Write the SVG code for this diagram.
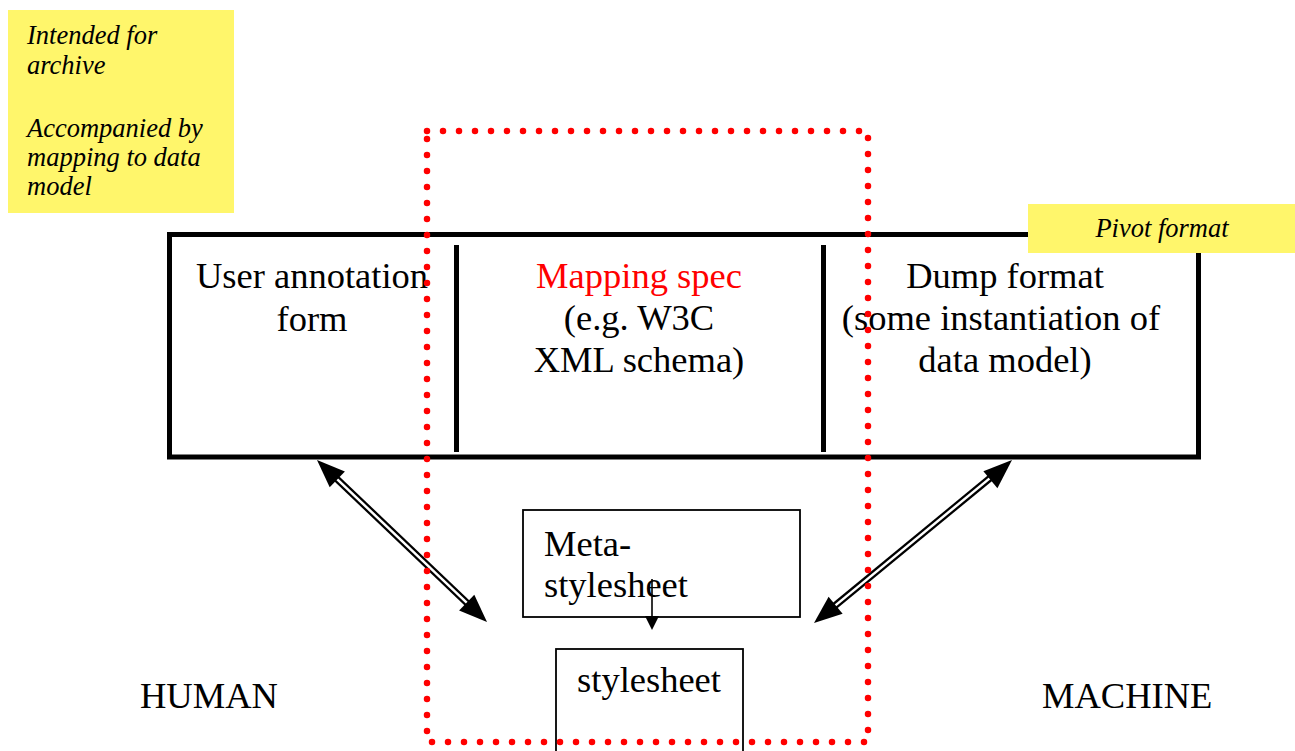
<svg xmlns="http://www.w3.org/2000/svg" width="1295" height="751" viewBox="0 0 1295 751">
<style>
.t{font-family:"Liberation Serif","Times New Roman",serif;font-size:36.5px;fill:#000}
.i{font-family:"Times New Roman","Liberation Serif",serif;font-size:26.5px;font-style:italic;fill:#000}
.note{fill:#FFF66B;stroke:none}
.box{fill:#fff;stroke:#000;stroke-width:1.8}
.dbl{stroke:#000;stroke-width:7;fill:none}
.gap{stroke:#fff;stroke-width:2.5;fill:none}
.head{fill:#000}
</style>
<rect width="1295" height="751" fill="#fff"/>
<g id="note-archive">
<rect class="note" x="8" y="10" width="226" height="203"/>
<text class="i" x="27" y="44">Intended for</text>
<text class="i" x="27" y="74">archive</text>
<text class="i" x="27" y="137">Accompanied by</text>
<text class="i" x="27" y="166">mapping to data</text>
<text class="i" x="27" y="195">model</text>
</g>
<g id="pivot">
<rect x="169.5" y="234.5" width="1029" height="222.5" fill="#fff" stroke="#000" stroke-width="5"/>
<line x1="456.5" y1="245" x2="456.5" y2="452" stroke="#000" stroke-width="5"/>
<line x1="823.5" y1="245" x2="823.5" y2="452" stroke="#000" stroke-width="5"/>
</g>
<g id="user-annotation">
<text class="t" x="312" y="288" text-anchor="middle">User annotation</text>
<text class="t" x="312" y="331" text-anchor="middle">form</text>
</g>
<g id="mapping-spec">
<text class="t" x="639" y="288" text-anchor="middle" style="fill:#FF0000">Mapping spec</text>
<text class="t" x="639" y="330" text-anchor="middle">(e.g. W3C</text>
<text class="t" x="639" y="372" text-anchor="middle">XML schema)</text>
</g>
<g id="dump-format">
<text class="t" x="1005" y="288" text-anchor="middle">Dump format</text>
<text class="t" x="1001" y="330" text-anchor="middle">(some instantiation of</text>
<text class="t" x="1005" y="372" text-anchor="middle">data model)</text>
</g>
<g id="note-pivot">
<rect class="note" x="1028" y="204" width="267" height="49"/>
<text class="i" x="1162" y="237" text-anchor="middle">Pivot format</text>
</g>
<g id="meta-stylesheet">
<rect class="box" x="523" y="510" width="277" height="107"/>
<text class="t" x="544" y="556">Meta-</text>
<text class="t" x="544" y="597">stylesheet</text>
</g>
<g id="stylesheet">
<rect class="box" x="556" y="649" width="187" height="120"/>
<text class="t" x="649" y="692" text-anchor="middle">stylesheet</text>
</g>
<g id="human"><text class="t" x="140" y="708">HUMAN</text></g>
<g id="machine"><text class="t" x="1042" y="708">MACHINE</text></g>
<g id="connectors">
<line x1="652" y1="579" x2="652" y2="618" stroke="#000" stroke-width="1.6"/>
<polygon class="head" points="645,616 659,616 652,630"/>
<line class="dbl" x1="333" y1="475.2" x2="471" y2="606.8"/>
<line class="gap" x1="336" y1="478.1" x2="468" y2="603.9"/>
<polygon class="head" points="317,460 329.7,487.3 344.9,471.4"/>
<polygon class="head" points="487,622 459.1,610.6 474.3,594.7"/>
<line class="dbl" x1="996" y1="473.2" x2="830" y2="609.8"/>
<line class="gap" x1="993" y1="475.6" x2="833" y2="607.4"/>
<polygon class="head" points="1012,460 983.4,471.3 997.4,488.2"/>
<polygon class="head" points="814,623 828.6,596.8 842.6,613.7"/>
</g>
<g id="boundary">
<rect x="427" y="131" width="441" height="611" fill="none" stroke="#FF0000" stroke-width="6.5" stroke-linecap="round" stroke-dasharray="0 16"/>
</g>
</svg>
